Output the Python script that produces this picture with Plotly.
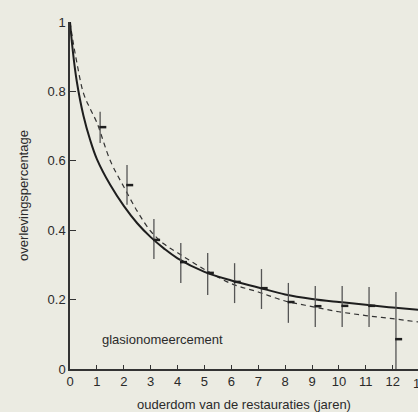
import plotly.graph_objects as go

# Observed survival with error bars
years = [1, 2, 3, 4, 5, 6, 7, 8, 9, 10, 11, 12]
surv_obs = [0.697, 0.530, 0.372, 0.308, 0.277, 0.251, 0.233, 0.193, 0.181, 0.182, 0.182, 0.086]
err_up = [0.044, 0.058, 0.060, 0.055, 0.057, 0.054, 0.055, 0.055, 0.058, 0.057, 0.054, 0.136]
err_down = [0.046, 0.057, 0.055, 0.060, 0.064, 0.061, 0.060, 0.060, 0.060, 0.061, 0.061, 0.086]

# Fitted curves
curve_x = [0, 0.1, 0.25, 0.5, 0.75, 1, 1.5, 2, 2.5, 3, 3.5, 4, 5, 6, 7, 8, 9, 10, 11, 12, 13]
solid_y = [1.0, 0.92, 0.83, 0.73, 0.66, 0.605, 0.53, 0.47, 0.42, 0.38, 0.347, 0.319,
           0.28, 0.255, 0.235, 0.215, 0.202, 0.193, 0.185, 0.177, 0.170]
dashed_y = [1.0, 0.95, 0.885, 0.795, 0.75, 0.71, 0.60, 0.525, 0.455, 0.397, 0.36, 0.335,
            0.287, 0.246, 0.222, 0.196, 0.180, 0.165, 0.154, 0.145, 0.135]

x_ticks = list(range(0, 13))
y_ticks = [0, 0.2, 0.4, 0.6, 0.8, 1]
y_tick_text = ["0", "0.2", "0.4", "0.6", "0.8", "1"]

bg = "#ebebe2"
ink = "#1e1e1e"
font = "Liberation Sans, Arial, sans-serif"

fig = go.Figure()

fig.add_trace(go.Scatter(
    x=curve_x, y=dashed_y, mode="lines", line=dict(color="#333333", width=1.2, dash="5px,4px", shape="spline"),
    showlegend=False, hoverinfo="skip"))
fig.add_trace(go.Scatter(
    x=curve_x, y=solid_y, mode="lines", line=dict(color=ink, width=2, shape="spline"),
    showlegend=False, hoverinfo="skip"))

# error bars (drawn slightly right of the year tick, as in the original)
fig.add_trace(go.Scatter(
    x=[v + 0.12 for v in years], y=surv_obs, mode="markers",
    marker=dict(size=1, color="rgba(0,0,0,0)"),
    error_y=dict(type="data", symmetric=False, array=err_up, arrayminus=err_down,
                 color="#555555", thickness=1.3, width=0),
    showlegend=False, cliponaxis=False))
fig.add_trace(go.Scatter(
    x=[v + 0.22 for v in years], y=surv_obs, mode="markers",
    marker=dict(symbol="line-ew", size=5, line=dict(width=2.5, color=ink)),
    showlegend=False))

fig.add_annotation(x=1.1, y=0.085, xref="x", yref="y", text="glasionomeercement",
                   showarrow=False, xanchor="left", yanchor="middle",
                   font=dict(family=font, size=13, color="#2a2a2a"))
# partially visible "13" tick label at the cut-off right edge
fig.add_annotation(x=1.0057, y=0, xref="paper", yref="paper", text="13", showarrow=False,
                   xanchor="center", yanchor="top", yshift=-5,
                   font=dict(family=font, size=13, color="#2a2a2a"))

fig.update_layout(
    width=418, height=412,
    margin=dict(l=70, r=0, t=22, b=43),
    paper_bgcolor=bg, plot_bgcolor=bg,
    font=dict(family=font, size=13, color="#2a2a2a"),
    xaxis=dict(range=[0, 12.94], tickvals=x_ticks, ticks="inside", ticklen=4,
               tickcolor="#333", showline=True, linecolor="#333", linewidth=1.5,
               showgrid=False, zeroline=False,
               title=dict(text="ouderdom van de restauraties (jaren)", font=dict(size=13), standoff=12)),
    yaxis=dict(range=[0, 1], tickvals=y_ticks, ticktext=y_tick_text, ticks="inside", ticklen=6,
               tickcolor="#333", showline=True, linecolor="#333", linewidth=1.5,
               showgrid=False, zeroline=False,
               title=dict(text="overlevingspercentage", font=dict(size=13), standoff=16)),
)

fig.write_html("out.html")
